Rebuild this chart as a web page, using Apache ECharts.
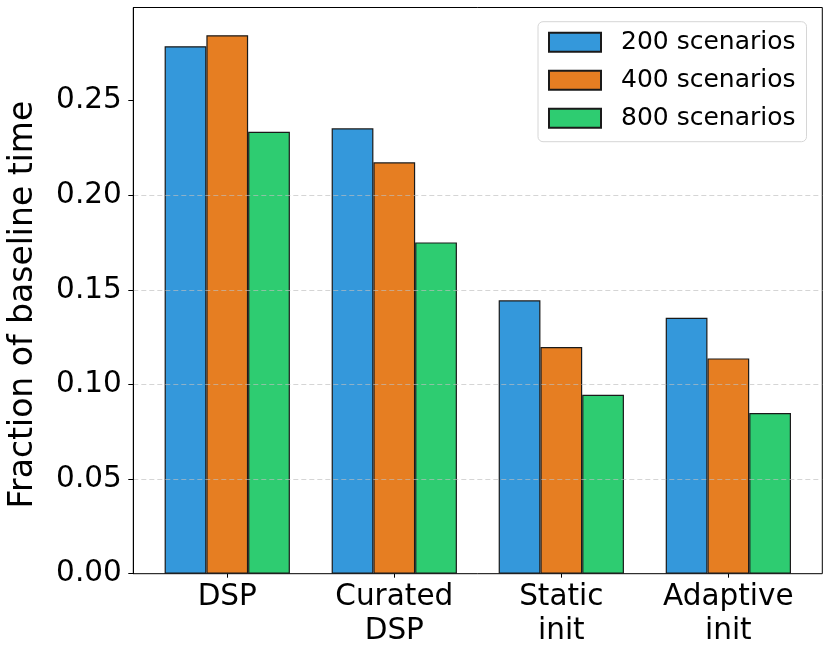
<!DOCTYPE html>
<html>
<head>
<meta charset="utf-8">
<script src="https://cdn.jsdelivr.net/npm/echarts@6/dist/echarts.min.js"></script>
<style>
  html, body { margin: 0; padding: 0; background: #fff; }
  #chart { width: 831px; height: 655px; }
</style>
</head>
<body>
<div id="chart"></div>
<script>
// data
var categories = ["DSP", "Curated\nDSP", "Static\ninit", "Adaptive\ninit"];
var seriesNames = ["200 scenarios", "400 scenarios", "800 scenarios"];
var values200 = [0.2788, 0.2354, 0.1445, 0.1353];
var values400 = [0.2846, 0.2174, 0.1198, 0.1138];
var values800 = [0.2336, 0.1751, 0.0946, 0.0849];
var yTicks = [0, 0.05, 0.10, 0.15, 0.20, 0.25];

var colors = ["#3498db", "#e67e22", "#2ecc71"];
var yMax = 0.29925;
var font = "DejaVu Sans";

// plot box (matplotlib style margins)
var plotLeft = 133.3, plotTop = 7.5, plotWidth = 689, plotHeight = 566.2;
var unit = plotWidth / 4.125;              // px per category
var barsLeft = plotLeft + 0.0625 * unit;

var chart = echarts.init(document.getElementById("chart"));

function makeBar(name, data, color) {
  return {
    name: name,
    type: "bar",
    xAxisIndex: 1,
    yAxisIndex: 1,
    data: data,
    barWidth: 0.25 * unit,
    barGap: "0%",
    itemStyle: { color: color, borderColor: "#1a1a1a", borderWidth: 1.2 }
  };
}

var option = {
  animation: false,
  backgroundColor: "#fff",
  textStyle: { fontFamily: font },
  grid: [
    { left: plotLeft, top: plotTop, width: plotWidth, height: plotHeight,
      outerBoundsMode: "none", containLabel: false,
      show: true, borderColor: "#000", borderWidth: 1, backgroundColor: "transparent" },
    { left: barsLeft, top: plotTop, width: 4 * unit, height: plotHeight,
      outerBoundsMode: "none", containLabel: false }
  ],
  legend: {
    orient: "vertical",
    left: 538,
    top: 21.7,
    data: seriesNames,
    icon: "rect",
    itemWidth: 52,
    itemHeight: 19,
    itemGap: 13,
    padding: [8, 11, 11, 10],
    backgroundColor: "#fff",
    borderColor: "#d6d6d6",
    borderWidth: 1,
    borderRadius: 5,
    textStyle: { fontFamily: font, fontSize: 25, color: "#000", lineHeight: 25, padding: [0, 0, 0, 15] }
  },
  xAxis: [
    { type: "value", gridIndex: 0, min: 0, max: 1, show: false },
    {
      type: "category",
      gridIndex: 1,
      data: categories,
      axisLine: { show: false },
      axisTick: { show: true, alignWithLabel: true, length: 4, lineStyle: { color: "#000" } },
      axisLabel: { interval: 0, fontFamily: font, fontSize: 29.5, lineHeight: 33.5, color: "#000", margin: 7 }
    }
  ],
  yAxis: [
    {
      type: "value",
      gridIndex: 0,
      min: 0,
      max: yMax,
      interval: 0.05,
      z: 5,
      name: "Fraction of baseline time",
      nameLocation: "middle",
      nameGap: 93,
      nameTextStyle: { fontFamily: font, fontSize: 33, color: "#000", padding: [0, 28, 0, 0] },
      axisLine: { show: true, lineStyle: { color: "#000" } },
      axisTick: { show: true, length: 5, customValues: yTicks, lineStyle: { color: "#000" } },
      axisLabel: {
        fontFamily: font, fontSize: 29.5, color: "#000", margin: 11.5,
        customValues: yTicks,
        formatter: function (v) { return v.toFixed(2); }
      },
      splitLine: {
        show: true, showMinLine: false, showMaxLine: false,
        lineStyle: { color: "rgba(190,190,190,0.65)", type: [5, 3], width: 1 }
      }
    },
    { type: "value", gridIndex: 1, min: 0, max: yMax, show: false }
  ],
  series: [
    makeBar(seriesNames[0], values200, colors[0]),
    makeBar(seriesNames[1], values400, colors[1]),
    makeBar(seriesNames[2], values800, colors[2])
  ]
};

chart.setOption(option);
</script>
</body>
</html>
